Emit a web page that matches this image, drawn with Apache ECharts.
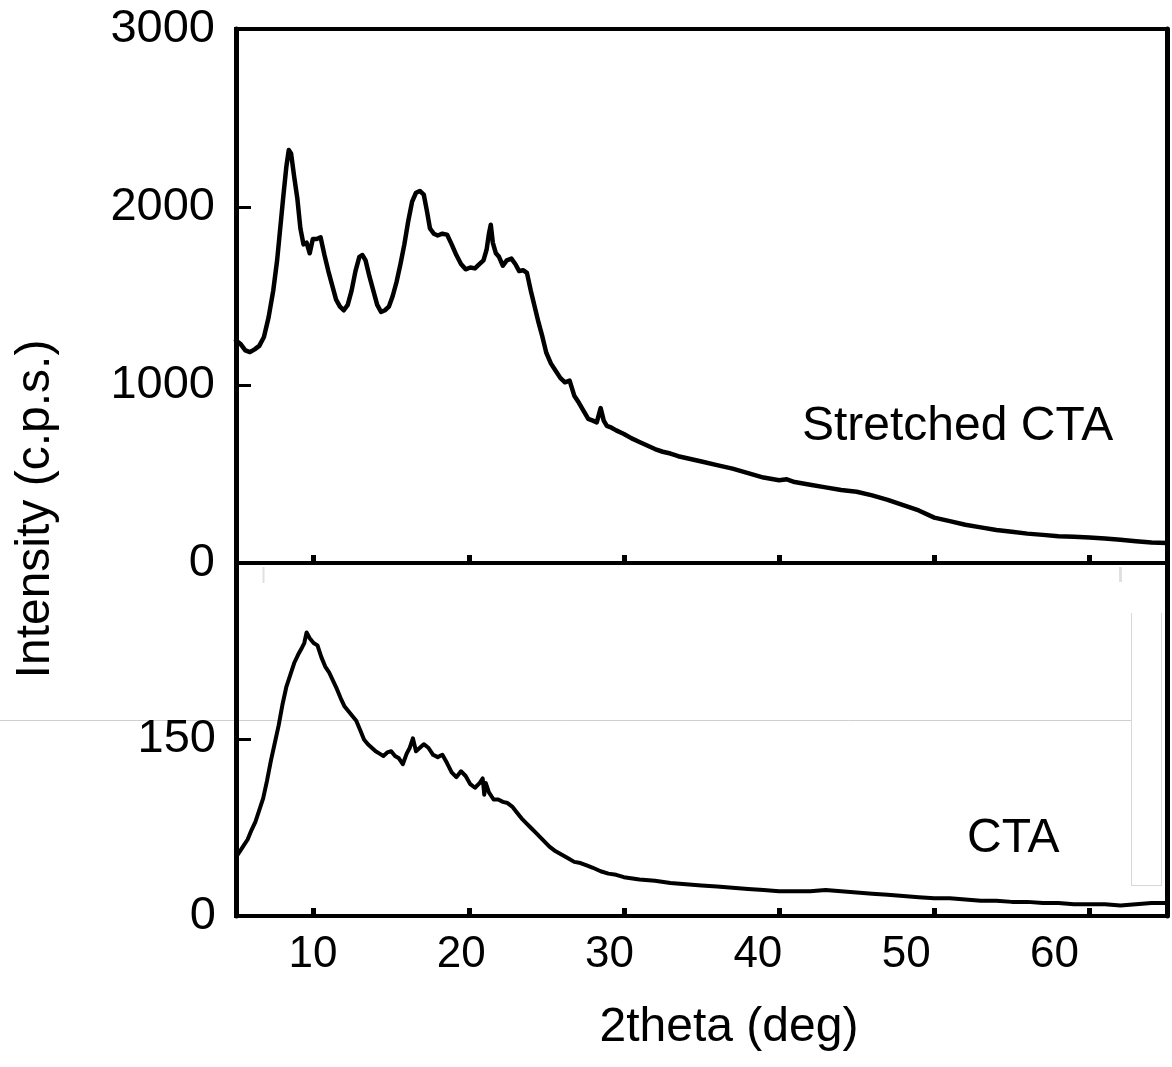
<!DOCTYPE html>
<html>
<head>
<meta charset="utf-8">
<script src="https://cdn.jsdelivr.net/npm/echarts@6/dist/echarts.min.js"></script>
<style>
html,body{margin:0;padding:0;background:#fff;}
#chart{width:1172px;height:1067px;}
</style>
</head>
<body>
<div id="chart"></div>
<script>
// ---- data (two-theta in deg, intensity in c.p.s.) ----
const stretchedTheta = [5.0,5.3,5.6,5.9,6.2,6.5,6.8,7.1,7.4,7.65,7.85,8.05,8.25,8.4,8.55,8.75,8.95,9.15,9.35,9.55,9.75,9.95,10.2,10.45,10.7,10.95,11.2,11.45,11.7,11.95,12.2,12.45,12.7,12.95,13.15,13.35,13.6,13.85,14.1,14.35,14.6,14.85,15.1,15.35,15.6,15.85,16.1,16.35,16.6,16.85,17.1,17.3,17.5,17.75,18.0,18.3,18.6,18.9,19.2,19.5,19.8,20.1,20.4,20.7,20.95,21.15,21.3,21.42,21.55,21.75,21.95,22.2,22.45,22.75,23.0,23.25,23.5,23.75,24.0,24.25,24.5,24.75,25.0,25.3,25.6,25.9,26.2,26.5,26.8,27.1,27.4,27.7,28.0,28.25,28.5,28.7,28.9,29.2,29.5,30.0,30.5,31,31.5,32,32.5,33,33.5,34,35,36,37,38,39,40,40.5,41,42,43,44,45,46,47,48,49,50,51,52,53,54,55,56,57,58,59,60,61,62,63,64,65];
const stretchedIntensity = [1250,1230,1195,1185,1200,1220,1270,1380,1530,1700,1880,2060,2230,2320,2300,2170,2050,1880,1790,1800,1740,1820,1820,1830,1730,1640,1560,1480,1440,1420,1450,1530,1640,1720,1730,1700,1610,1530,1450,1410,1420,1440,1500,1580,1680,1790,1920,2030,2080,2090,2070,1980,1880,1850,1840,1850,1845,1790,1730,1680,1650,1660,1655,1680,1700,1760,1850,1900,1800,1740,1720,1670,1700,1710,1680,1640,1645,1630,1530,1440,1350,1270,1180,1120,1080,1040,1015,1025,940,900,855,810,800,790,870,800,770,760,745,725,700,680,660,640,625,615,600,590,570,550,530,505,480,465,470,455,440,425,410,400,380,355,325,295,255,235,215,200,185,175,165,158,150,147,143,138,130,122,115,112];

const ctaTheta = [5.0,5.25,5.5,5.75,6.0,6.25,6.5,6.75,7.0,7.25,7.5,7.75,8.0,8.25,8.5,8.75,9.0,9.25,9.4,9.55,9.75,10.0,10.25,10.5,10.75,11.0,11.25,11.5,11.75,12.0,12.25,12.5,12.75,13.0,13.25,13.5,13.75,14.0,14.25,14.5,14.75,15.0,15.25,15.5,15.75,16.0,16.2,16.4,16.6,16.85,17.1,17.4,17.7,18.0,18.3,18.6,18.9,19.2,19.5,19.8,20.1,20.4,20.7,20.9,21.0,21.1,21.3,21.6,21.9,22.2,22.5,22.8,23.1,23.4,23.7,24.0,24.3,24.6,24.9,25.2,25.6,26.0,26.4,26.8,27.2,27.6,28.0,28.5,29,29.5,30,31,32,33,34,35,36,37,38,39,40,41,42,43,44,45,46,47,48,49,50,51,52,53,54,55,56,57,58,59,60,61,62,63,64,65];
const ctaIntensity = [50,55,60,65,73,80,90,100,115,132,147,162,180,195,205,215,222,228,232,241,236,232,230,220,212,207,200,193,185,178,174,170,166,158,150,146,143,140,138,136,139,140,136,134,129,138,143,151,140,143,146,143,137,135,137,130,122,118,123,119,112,109,113,117,103,113,105,99,99,97,96,93,88,83,79,75,71,67,63,59,55,52,49,46,45,43,41,38,36,35,33,31,30,28,27,26,25,24,23,22,21,21,21,22,21,20,19,18,17,16,15,15,14,13,13,12,12,11,11,10,10,10,9,10,11,11];

const xTickLabels = [10, 20, 30, 40, 50, 60];
const topYTicks = [0, 1000, 2000, 3000];
const bottomYTicks = [0, 150];
const bottomYTickMarks = [0, 150, 300];
const labelStretched = 'Stretched CTA';
const labelCTA = 'CTA';
const xTitle = '2theta (deg)';
const yTitle = 'Intensity (c.p.s.)';

// ---- chart ----
const FONT = "'Liberation Sans', Arial, sans-serif";
const chart = echarts.init(document.getElementById('chart'), null, {renderer: 'canvas'});

function pairs(xs, ys) { return xs.map((x, i) => [x, ys[i]]); }
const plain = v => String(v);

function dataXAxis(gridIndex) {
  return {
    gridIndex: gridIndex, type: 'value', min: 5, max: 65, position: 'bottom',
    axisLine: {show: true, lineStyle: {color: '#000', width: 4}},
    axisTick: {show: true, customValues: xTickLabels, inside: true, length: 8, lineStyle: {color: '#000', width: 5}},
    axisLabel: {show: false},
    splitLine: {show: false}
  };
}

const option = {
  backgroundColor: '#fff',
  animation: false,
  grid: [
    {left: 236, right: 5, top: 29, height: 534, show: true, borderColor: '#000', borderWidth: 4, containLabel: false},
    {left: 236, right: 5, top: 563, height: 353, show: true, borderColor: '#000', borderWidth: 4, containLabel: false}
  ],
  xAxis: [
    dataXAxis(0),
    dataXAxis(1),
    {
      gridIndex: 1, type: 'value', min: 4.808, max: 67.59, position: 'bottom',
      axisLine: {show: false}, axisTick: {show: false}, splitLine: {show: false},
      axisLabel: {show: true, customValues: xTickLabels, formatter: plain, color: '#000', fontSize: 44, fontFamily: FONT, margin: 17}
    }
  ],
  yAxis: [
    {
      gridIndex: 0, type: 'value', min: 0, max: 3000, position: 'left',
      axisLine: {show: true, lineStyle: {color: '#000', width: 5}},
      axisTick: {show: true, customValues: topYTicks, inside: true, length: 15, lineStyle: {color: '#000', width: 3}},
      axisLabel: {show: true, customValues: topYTicks, formatter: plain, color: '#000', fontSize: 47, fontFamily: FONT, margin: 21},
      splitLine: {show: false}
    },
    {
      gridIndex: 0, type: 'value', min: 0, max: 3000, position: 'right',
      axisLine: {show: true, lineStyle: {color: '#000', width: 5}},
      axisTick: {show: false}, axisLabel: {show: false}, splitLine: {show: false}
    },
    {
      gridIndex: 1, type: 'value', min: 0, max: 300, position: 'left',
      axisLine: {show: true, lineStyle: {color: '#000', width: 5}},
      axisTick: {show: true, customValues: bottomYTickMarks, inside: true, length: 15, lineStyle: {color: '#000', width: 3}},
      axisLabel: {show: true, customValues: bottomYTicks, formatter: plain, color: '#000', fontSize: 47, fontFamily: FONT, margin: 20},
      splitLine: {show: false}
    },
    {
      gridIndex: 1, type: 'value', min: 0, max: 300, position: 'right',
      axisLine: {show: true, lineStyle: {color: '#000', width: 5}},
      axisTick: {show: false}, axisLabel: {show: false}, splitLine: {show: false}
    }
  ],
  series: [
    {
      name: labelStretched, type: 'line', xAxisIndex: 0, yAxisIndex: 0,
      data: pairs(stretchedTheta, stretchedIntensity),
      showSymbol: false, symbol: 'none',
      lineStyle: {color: '#000', width: 4.5, join: 'round', cap: 'round'}, z: 3
    },
    {
      name: labelCTA, type: 'line', xAxisIndex: 1, yAxisIndex: 2,
      data: pairs(ctaTheta, ctaIntensity),
      showSymbol: false, symbol: 'none',
      lineStyle: {color: '#000', width: 4, join: 'round', cap: 'round'}, z: 3
    }
  ],
  graphic: [
    // faint scan artifacts of the original figure
    {type: 'line', shape: {x1: 0, y1: 720.5, x2: 1131, y2: 720.5}, style: {stroke: '#cfcfcf', lineWidth: 1}, z: 0},
    {type: 'line', shape: {x1: 1131.5, y1: 613, x2: 1131.5, y2: 885}, style: {stroke: '#d8d8d8', lineWidth: 1}, z: 0},
    {type: 'line', shape: {x1: 1161.5, y1: 613, x2: 1161.5, y2: 885}, style: {stroke: '#d8d8d8', lineWidth: 1}, z: 0},
    {type: 'line', shape: {x1: 1131, y1: 885.5, x2: 1162, y2: 885.5}, style: {stroke: '#d8d8d8', lineWidth: 1}, z: 0},
    {type: 'line', shape: {x1: 263.5, y1: 567, x2: 263.5, y2: 583}, style: {stroke: '#e0e0e0', lineWidth: 2}, z: 0},
    {type: 'line', shape: {x1: 1120.5, y1: 567, x2: 1120.5, y2: 582}, style: {stroke: '#e0e0e0', lineWidth: 3}, z: 0},
    // texts
    {type: 'text', left: 802, top: 403, style: {text: labelStretched, font: '48px ' + FONT, fill: '#000'}, z: 10},
    {type: 'text', left: 967, top: 815, style: {text: labelCTA, font: '48px ' + FONT, fill: '#000'}, z: 10},
    {type: 'text', x: 729, y: 1028, style: {text: xTitle, font: '48px ' + FONT, fill: '#000', textAlign: 'center', textVerticalAlign: 'middle'}, z: 10},
    {type: 'text', x: 36, y: 509, rotation: Math.PI / 2, style: {text: yTitle, font: '48px ' + FONT, fill: '#000', textAlign: 'center', textVerticalAlign: 'middle'}, z: 10}
  ]
};

chart.setOption(option);
</script>
</body>
</html>
